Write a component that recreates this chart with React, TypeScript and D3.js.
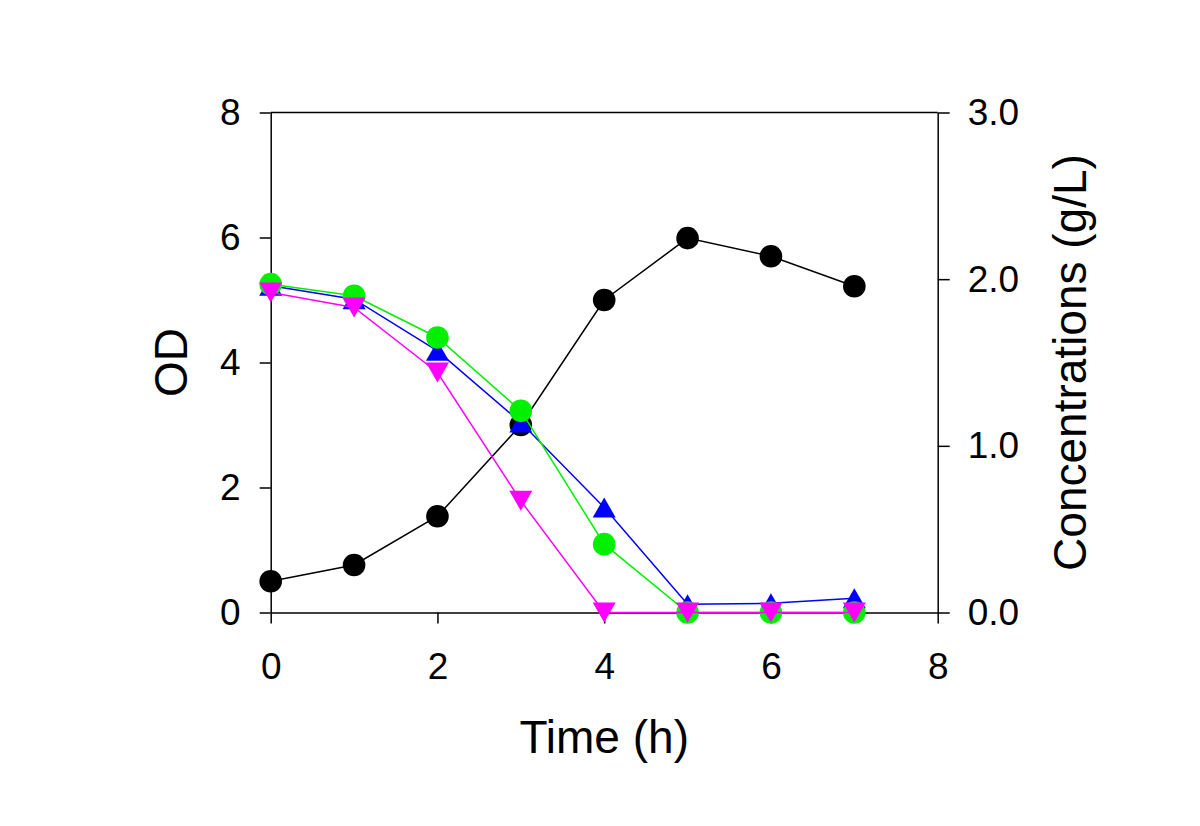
import React, { useRef, useEffect } from "react";
import * as d3 from "d3";

// time points (h)
const time = [0, 1, 2, 3, 4, 5, 6, 7];
// OD, left axis
const od = [0.5, 0.76, 1.54, 3.0, 5.0, 5.99, 5.7, 5.22];
// concentrations (g/L), right axis
const blueConc = [1.96, 1.88, 1.57, 1.14, 0.63, 0.05, 0.055, 0.085];
const greenConc = [1.97, 1.9, 1.65, 1.21, 0.41, 0.0, 0.0, 0.0];
const magentaConc = [1.92, 1.83, 1.44, 0.67, 0.0, 0.0, 0.0, 0.0];

const xTicks = [0, 2, 4, 6, 8];
const leftTicks = [0, 2, 4, 6, 8];
const rightTicks = [0, 1, 2, 3];

const FONT = "'Liberation Sans', Arial, sans-serif";

const App = () => {
	const svgRef = useRef(null);
	const svg_width = 1200;
	const svg_height = 826;
	const left = 270.7;
	const top = 112.5;
	const width = 667;
	const height = 500;

	useEffect(() => {
		const svg = d3.select(svgRef.current);
		svg.selectAll("*").remove();

		const x_scale = d3.scaleLinear().domain([0, 8]).range([0, width]);
		const yl_scale = d3.scaleLinear().domain([0, 8]).range([height, 0]);
		const yr_scale = d3.scaleLinear().domain([0, 3]).range([height, 0]);

		const g = svg.append("g").attr("transform", `translate(${left}, ${top})`);

		// top frame line
		g.append("line")
			.attr("x1", 0).attr("x2", width)
			.attr("y1", 0).attr("y2", 0)
			.attr("stroke", "black").attr("stroke-width", 1.5);

		const styleAxis = (sel) => {
			sel.select(".domain").attr("stroke", "black").attr("stroke-width", 1.5);
			sel.selectAll(".tick line").attr("stroke", "black").attr("stroke-width", 1.5);
			sel.selectAll(".tick text")
				.attr("fill", "black")
				.style("font-family", FONT)
				.style("font-size", "37px");
		};

		g.append("g")
			.attr("transform", `translate(0, ${height})`)
			.call(d3.axisBottom(x_scale).tickValues(xTicks).tickSize(11).tickSizeOuter(0).tickPadding(29).tickFormat(d3.format("d")))
			.call(styleAxis);

		g.append("g")
			.call(d3.axisLeft(yl_scale).tickValues(leftTicks).tickSize(11).tickSizeOuter(0).tickPadding(19).tickFormat(d3.format("d")))
			.call(styleAxis);

		g.append("g")
			.attr("transform", `translate(${width}, 0)`)
			.call(d3.axisRight(yr_scale).tickValues(rightTicks).tickSize(12).tickSizeOuter(0).tickPadding(18).tickFormat(d3.format(".1f")))
			.call(styleAxis);

		// axis titles
		svg.append("text")
			.attr("x", left + width / 2)
			.attr("y", 753)
			.attr("text-anchor", "middle")
			.style("font-family", FONT)
			.style("font-size", "46px")
			.text("Time (h)");

		svg.append("text")
			.attr("transform", `translate(187, ${top + height / 2}) rotate(-90)`)
			.attr("text-anchor", "middle")
			.style("font-family", FONT)
			.style("font-size", "46px")
			.text("OD");

		svg.append("text")
			.attr("transform", `translate(1086, ${top + height / 2}) rotate(-90)`)
			.attr("text-anchor", "middle")
			.style("font-family", FONT)
			.style("font-size", "46px")
			.text("Concentrations (g/L)");

		// markers
		const tri_w = 23;
		const tri_h = 20;
		const triUp = `M0,${-tri_h / 2}L${tri_w / 2},${tri_h / 2}L${-tri_w / 2},${tri_h / 2}Z`;
		const triDown = `M0,${tri_h / 2}L${tri_w / 2},${-tri_h / 2}L${-tri_w / 2},${-tri_h / 2}Z`;

		const series = [
			{ values: od, scale: yl_scale, color: "#000000", shape: "circle" },
			{ values: blueConc, scale: yr_scale, color: "#0000FF", shape: "up" },
			{ values: greenConc, scale: yr_scale, color: "#00F000", shape: "circle" },
			{ values: magentaConc, scale: yr_scale, color: "#FF00FF", shape: "down" },
		];

		series.forEach(s => {
			const pts = time.map((t, i) => [t, s.values[i]]);
			const sg = g.append("g");
			sg.append("path")
				.datum(pts)
				.attr("fill", "none")
				.attr("stroke", s.color)
				.attr("stroke-width", 1.5)
				.attr("d", d3.line()
					.x(d => x_scale(d[0]))
					.y(d => s.scale(d[1]))
				);
			if (s.shape === "circle") {
				sg.selectAll("circle")
					.data(pts)
					.join("circle")
					.attr("cx", d => x_scale(d[0]))
					.attr("cy", d => s.scale(d[1]))
					.attr("r", 11.3)
					.attr("fill", s.color);
			} else {
				sg.selectAll("path.marker")
					.data(pts)
					.join("path")
					.attr("class", "marker")
					.attr("transform", d => `translate(${x_scale(d[0])}, ${s.scale(d[1])})`)
					.attr("d", s.shape === "up" ? triUp : triDown)
					.attr("fill", s.color);
			}
		});
	}, []);

	return (
		<div style={{ position: "absolute", left: 0, top: 0 }}>
			<svg ref={svgRef} width={svg_width} height={svg_height} style={{ display: "block", background: "white" }}>
			</svg>
		</div>
	);
};

export default App;
